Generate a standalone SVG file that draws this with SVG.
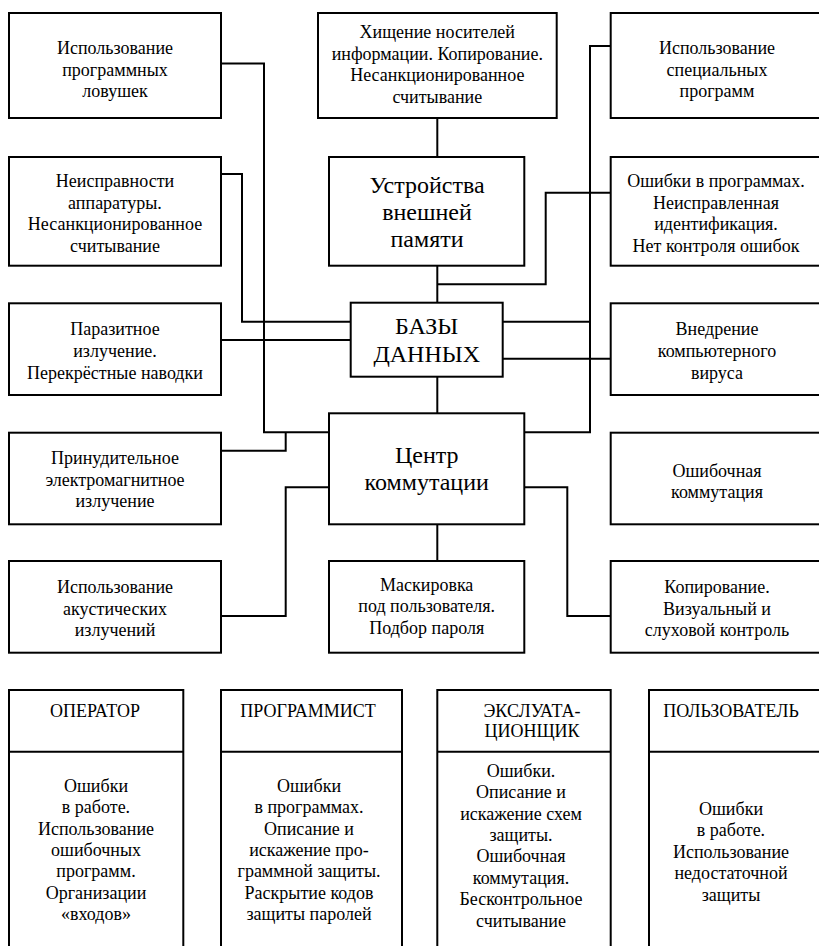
<svg xmlns="http://www.w3.org/2000/svg" width="819" height="946" viewBox="0 0 819 946">
  <style>
    .box { fill: #fff; stroke: #000; stroke-width: 2; }
    .wire { fill: none; stroke: #000; stroke-width: 2; }
    .t { font-size: 18px; text-anchor: middle; fill: #000; }
    .big { font-size: 24px; text-anchor: middle; fill: #000; }
  </style>
  <rect width="819" height="946" fill="#fff"/>

  <!-- connectors -->
  <g id="connectors">
    <path class="wire" d="M221,63.5 H264 V432.3 H329"/>
    <path class="wire" d="M221,450.7 H285.7 V432.3"/>
    <path class="wire" d="M221,174 H242 V321.7 H350.7"/>
    <path class="wire" d="M221,340 H350.7"/>
    <path class="wire" d="M221,616 H285.7 V487.3 H329"/>
    <path class="wire" d="M437.3,118 V157"/>
    <path class="wire" d="M437.3,265.7 V302.7"/>
    <path class="wire" d="M610.7,192.7 H545.7 V284.3 H437.3"/>
    <path class="wire" d="M610.7,46 H590 V432.3 H524.3"/>
    <path class="wire" d="M502.7,321.7 H590"/>
    <path class="wire" d="M502.7,358.7 H610.7"/>
    <path class="wire" d="M437.3,376.7 V413.3"/>
    <path class="wire" d="M437.3,524.3 V561"/>
    <path class="wire" d="M524.3,487.3 H567.3 V616 H610.7"/>
  </g>

  <g font-family="'Liberation Serif', 'Times New Roman', serif">
  <!-- left column -->
  <g id="traps">
    <rect class="box" x="9" y="13" width="212" height="105"/>
    <text class="t" x="115" y="54.3">Использование</text>
    <text class="t" x="115" y="75.8">программных</text>
    <text class="t" x="115" y="97.3">ловушек</text>
  </g>
  <g id="hardware">
    <rect class="box" x="9" y="157" width="212" height="108.7"/>
    <text class="t" x="115" y="187">Неисправности</text>
    <text class="t" x="115" y="208.5">аппаратуры.</text>
    <text class="t" x="115" y="230">Несанкционированное</text>
    <text class="t" x="115" y="251.5">считывание</text>
  </g>
  <g id="parasitic">
    <rect class="box" x="9" y="303.3" width="212" height="91.7"/>
    <text class="t" x="115" y="335">Паразитное</text>
    <text class="t" x="115" y="357">излучение.</text>
    <text class="t" x="115" y="379">Перекрёстные наводки</text>
  </g>
  <g id="forced">
    <rect class="box" x="9" y="432.7" width="212" height="91.6"/>
    <text class="t" x="115" y="464.3">Принудительное</text>
    <text class="t" x="115" y="485.8">электромагнитное</text>
    <text class="t" x="115" y="507.3">излучение</text>
  </g>
  <g id="acoustic">
    <rect class="box" x="9" y="561" width="212" height="91.7"/>
    <text class="t" x="115" y="593.3">Использование</text>
    <text class="t" x="115" y="614.8">акустических</text>
    <text class="t" x="115" y="636.3">излучений</text>
  </g>

  <!-- centre column -->
  <g id="theft">
    <rect class="box" x="318" y="13" width="238.7" height="105"/>
    <text class="t" x="437.3" y="38">Хищение носителей</text>
    <text class="t" x="437.3" y="59.5">информации. Копирование.</text>
    <text class="t" x="437.3" y="81">Несанкционированное</text>
    <text class="t" x="437.3" y="102.5">считывание</text>
  </g>
  <g id="storage">
    <rect class="box" x="329" y="157" width="195.3" height="108.7"/>
    <text class="big" x="427" y="193.3">Устройства</text>
    <text class="big" x="427" y="220.3">внешней</text>
    <text class="big" x="427" y="247.3">памяти</text>
  </g>
  <g id="databases">
    <rect class="box" x="350.7" y="302.7" width="152" height="74"/>
    <text class="big" x="426.7" y="334.3">БАЗЫ</text>
    <text class="big" x="426.7" y="361.5">ДАННЫХ</text>
  </g>
  <g id="switching">
    <rect class="box" x="329" y="413.3" width="195.3" height="111"/>
    <text class="big" x="426.7" y="463.3">Центр</text>
    <text class="big" x="426.7" y="490.3">коммутации</text>
  </g>
  <g id="masquerade">
    <rect class="box" x="329" y="561" width="195.3" height="91.7"/>
    <text class="t" x="426.7" y="590.5">Маскировка</text>
    <text class="t" x="426.7" y="612">под пользователя.</text>
    <text class="t" x="426.7" y="633.5">Подбор пароля</text>
  </g>

  <!-- right column -->
  <g id="special">
    <rect class="box" x="610.7" y="13" width="213" height="105"/>
    <text class="t" x="717" y="54.3">Использование</text>
    <text class="t" x="717" y="75.8">специальных</text>
    <text class="t" x="717" y="97.3">программ</text>
  </g>
  <g id="bugs">
    <rect class="box" x="610.7" y="157" width="213" height="108.7"/>
    <text class="t" x="716" y="187">Ошибки в программах.</text>
    <text class="t" x="716" y="208.5">Неисправленная</text>
    <text class="t" x="716" y="230">идентификация.</text>
    <text class="t" x="716" y="251.5">Нет контроля ошибок</text>
  </g>
  <g id="virus">
    <rect class="box" x="610.7" y="303.3" width="213" height="91.7"/>
    <text class="t" x="717" y="335">Внедрение</text>
    <text class="t" x="717" y="357">компьютерного</text>
    <text class="t" x="717" y="379">вируса</text>
  </g>
  <g id="misrouting">
    <rect class="box" x="610.7" y="432.7" width="213" height="91.6"/>
    <text class="t" x="717" y="476.7">Ошибочная</text>
    <text class="t" x="717" y="498.3">коммутация</text>
  </g>
  <g id="copying">
    <rect class="box" x="610.7" y="561" width="213" height="91.7"/>
    <text class="t" x="717" y="593.3">Копирование.</text>
    <text class="t" x="717" y="614.8">Визуальный и</text>
    <text class="t" x="717" y="636.3">слуховой контроль</text>
  </g>

  <!-- personnel -->
  <g id="operator">
    <rect class="box" x="9" y="690" width="174.3" height="270"/>
    <line class="wire" x1="9" y1="751.7" x2="183.3" y2="751.7"/>
    <text class="t" x="95" y="716.7">ОПЕРАТОР</text>
    <text class="t" x="96" y="791.7">Ошибки</text>
    <text class="t" x="96" y="813.1">в работе.</text>
    <text class="t" x="96" y="834.5">Использование</text>
    <text class="t" x="96" y="855.9">ошибочных</text>
    <text class="t" x="96" y="877.3">программ.</text>
    <text class="t" x="96" y="898.7">Организации</text>
    <text class="t" x="96" y="920.1">«входов»</text>
  </g>
  <g id="programmer">
    <rect class="box" x="221" y="690" width="181" height="270"/>
    <line class="wire" x1="221" y1="751.7" x2="402" y2="751.7"/>
    <text class="t" x="308" y="716.7">ПРОГРАММИСТ</text>
    <text class="t" x="309" y="791.7">Ошибки</text>
    <text class="t" x="309" y="813.1">в программах.</text>
    <text class="t" x="309" y="834.5">Описание и</text>
    <text class="t" x="309" y="855.9">искажение про-</text>
    <text class="t" x="309" y="877.3">граммной защиты.</text>
    <text class="t" x="309" y="898.7">Раскрытие кодов</text>
    <text class="t" x="309" y="920.1">защиты паролей</text>
  </g>
  <g id="maintainer">
    <rect class="box" x="437.3" y="690" width="173.4" height="270"/>
    <line class="wire" x1="437.3" y1="751.7" x2="610.7" y2="751.7"/>
    <text class="t" x="532" y="716.7">ЭКСЛУАТА-</text>
    <text class="t" x="532" y="737">ЦИОНЩИК</text>
    <text class="t" x="521" y="776.7">Ошибки.</text>
    <text class="t" x="521" y="798.1">Описание и</text>
    <text class="t" x="521" y="819.5">искажение схем</text>
    <text class="t" x="521" y="840.9">защиты.</text>
    <text class="t" x="521" y="862.3">Ошибочная</text>
    <text class="t" x="521" y="883.7">коммутация.</text>
    <text class="t" x="521" y="905.1">Бесконтрольное</text>
    <text class="t" x="521" y="926.5">считывание</text>
  </g>
  <g id="user">
    <rect class="box" x="649" y="690" width="175" height="270"/>
    <line class="wire" x1="649" y1="751.7" x2="824" y2="751.7"/>
    <text class="t" x="731" y="716.7">ПОЛЬЗОВАТЕЛЬ</text>
    <text class="t" x="731" y="815">Ошибки</text>
    <text class="t" x="731" y="836.4">в работе.</text>
    <text class="t" x="731" y="857.8">Использование</text>
    <text class="t" x="731" y="879.2">недостаточной</text>
    <text class="t" x="731" y="900.6">защиты</text>
  </g>
  </g>
</svg>
